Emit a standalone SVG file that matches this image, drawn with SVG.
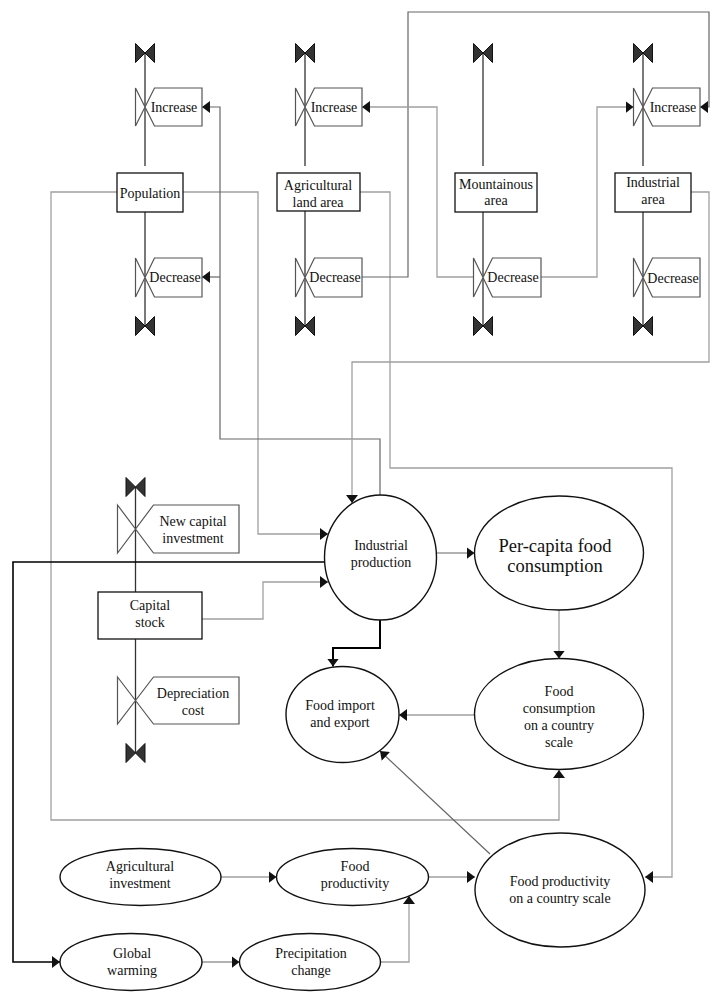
<svg xmlns="http://www.w3.org/2000/svg" xmlns:xlink="http://www.w3.org/1999/xlink" width="718" height="1000" viewBox="0 0 718 1000" font-family="Liberation Serif, DejaVu Serif, serif">
<style>
text{font-family:"Liberation Serif", "DejaVu Serif", serif}
.t{font-size:14px;fill:#111;text-anchor:middle}
.big{font-size:18.5px}
.box{fill:#fff;stroke:#111;stroke-width:1.3}
.ell{fill:#fff;stroke:#111;stroke-width:1.4}
.valve{fill:#fff;stroke:#555;stroke-width:1.2}
.flow{stroke:#333;stroke-width:1.3;fill:none}
.link{stroke:#a0a0a0;stroke-width:1.3;fill:none}
.dlink{stroke:#666;stroke-width:1.2;fill:none}
.bold{stroke:#000;stroke-width:1.6;fill:none}
.bold2{stroke:#000;stroke-width:2;fill:none}
</style>
<defs>
<marker id="ah" viewBox="0 0 8 12" refX="8" refY="6" markerWidth="8" markerHeight="12" orient="auto" markerUnits="userSpaceOnUse"><path d="M0,0 L8,6 L0,12 Z" fill="#111"/></marker>
<g id="bowtie"><path d="M-9.5,-9.5 L0,0 L-9.5,9.5 Z M9.5,-9.5 L0,0 L9.5,9.5 Z" fill="#333" stroke="#111" stroke-width="1"/></g>
</defs>

<g id="flows">
<path class="flow" d="M145,53 V166 M145,212 V326"/>
<path class="flow" d="M305,53 V166 M305,211 V326"/>
<path class="flow" d="M483,53 V166 M483,212 V326"/>
<path class="flow" d="M643,53 V166 M643,212 V326"/>
<path class="flow" d="M135.5,487 V592 M135.5,639 V753"/>
</g>

<g id="connectors">
<path class="link" d="M183,192 H258 V534 H328" marker-end="url(#ah)"/>
<path class="dlink" d="M380,495 V439 H220 V107 H202" marker-end="url(#ah)"/>
<path class="dlink" d="M220,277 H202" marker-end="url(#ah)"/>
<path class="link" d="M117,192 H51 V820 H559 V770" marker-end="url(#ah)"/>
<path class="link" d="M360,192 H390 V468 H672 V877 H645" marker-end="url(#ah)"/>
<path class="dlink" d="M362,277 H408 V12 H709 V107 H700" marker-end="url(#ah)"/>
<path class="link" d="M474,277 H437 V107 H362" marker-end="url(#ah)"/>
<path class="link" d="M541,277 H597 V107 H633.5" marker-end="url(#ah)"/>
<path class="link" d="M691,192 H709 V362 H352 V503" marker-end="url(#ah)"/>
<path class="link" d="M202,619 H263 V582 H328" marker-end="url(#ah)"/>
<path class="bold" d="M324.5,562 H13 V962 H60" marker-end="url(#ah)"/>
<path class="dlink" d="M436.5,553 H474.5" marker-end="url(#ah)"/>
<path class="bold2" d="M380,620 V648 H333 V666.5" marker-end="url(#ah)"/>
<path class="link" d="M559,610 V658.5" marker-end="url(#ah)"/>
<path class="link" d="M474.5,715 H399" marker-end="url(#ah)"/>
<path class="dlink" d="M490,854 L380,751" marker-end="url(#ah)"/>
<path class="link" d="M428.5,877 H475" marker-end="url(#ah)"/>
<path class="link" d="M221,877 H276.5" marker-end="url(#ah)"/>
<path class="dlink" d="M202,962 H239.5" marker-end="url(#ah)"/>
<path class="link" d="M380.5,962 H409 V896" marker-end="url(#ah)"/>
</g>

<g id="sources">
<use xlink:href="#bowtie" x="145" y="53"/>
<use xlink:href="#bowtie" x="145" y="326"/>
<use xlink:href="#bowtie" x="305" y="53"/>
<use xlink:href="#bowtie" x="305" y="326"/>
<use xlink:href="#bowtie" x="483" y="53"/>
<use xlink:href="#bowtie" x="483" y="326"/>
<use xlink:href="#bowtie" x="643" y="53"/>
<use xlink:href="#bowtie" x="643" y="326"/>
<use xlink:href="#bowtie" x="135.5" y="487"/>
<use xlink:href="#bowtie" x="135.5" y="753"/>
</g>

<g id="population">
<rect class="box" x="117" y="173" width="66" height="39"/>
<text class="t" x="150" y="198">Population</text>
</g>
<g id="pop-increase">
<path class="valve" d="M135.5,88 L154.5,126 L202,126 L202,88 L154.5,88 L135.5,126 Z"/>
<text class="t" x="174" y="112">Increase</text>
</g>
<g id="pop-decrease">
<path class="valve" d="M135.5,258 L154.5,297 L202,297 L202,258 L154.5,258 L135.5,297 Z"/>
<text class="t" x="175" y="282">Decrease</text>
</g>

<g id="agri-land">
<rect class="box" x="277" y="173" width="83" height="38"/>
<text class="t" x="318" y="190">Agricultural</text>
<text class="t" x="318" y="207">land area</text>
</g>
<g id="agri-increase">
<path class="valve" d="M295.5,88 L314.5,126 L362,126 L362,88 L314.5,88 L295.5,126 Z"/>
<text class="t" x="334" y="112">Increase</text>
</g>
<g id="agri-decrease">
<path class="valve" d="M295.5,258 L314.5,297 L362,297 L362,258 L314.5,258 L295.5,297 Z"/>
<text class="t" x="335" y="282">Decrease</text>
</g>

<g id="mountainous">
<rect class="box" x="455" y="173" width="82" height="39"/>
<text class="t" x="496" y="189">Mountainous</text>
<text class="t" x="496" y="205">area</text>
</g>
<g id="mount-decrease">
<path class="valve" d="M473.5,258 L492.5,297 L541,297 L541,258 L492.5,258 L473.5,297 Z"/>
<text class="t" x="513" y="282">Decrease</text>
</g>

<g id="industrial-area">
<rect class="box" x="615" y="173" width="76" height="39"/>
<text class="t" x="653" y="187">Industrial</text>
<text class="t" x="653" y="204">area</text>
</g>
<g id="ind-increase">
<path class="valve" d="M633.5,88 L652.5,126 L700,126 L700,88 L652.5,88 L633.5,126 Z"/>
<text class="t" x="673" y="112">Increase</text>
</g>
<g id="ind-decrease">
<path class="valve" d="M633.5,258 L652.5,297 L700,297 L700,258 L652.5,258 L633.5,297 Z"/>
<text class="t" x="673" y="283">Decrease</text>
</g>

<g id="capital-stock">
<rect class="box" x="98" y="592" width="104" height="47"/>
<text class="t" x="150" y="610">Capital</text>
<text class="t" x="150" y="627">stock</text>
</g>
<g id="new-capital">
<path class="valve" d="M117.5,505 L153.5,553 L239,553 L239,505 L153.5,505 L117.5,553 Z"/>
<text class="t" x="193" y="526">New capital</text>
<text class="t" x="193" y="543">investment</text>
</g>
<g id="depreciation">
<path class="valve" d="M117.5,677 L153.5,724 L239,724 L239,677 L153.5,677 L117.5,724 Z"/>
<text class="t" x="193" y="698">Depreciation</text>
<text class="t" x="193" y="715">cost</text>
</g>

<g id="industrial-production">
<ellipse class="ell" cx="380.5" cy="557.5" rx="56" ry="62.5"/>
<text class="t" x="381" y="550">Industrial</text>
<text class="t" x="381" y="567">production</text>
</g>
<g id="per-capita">
<ellipse class="ell" cx="559" cy="553" rx="84.5" ry="57"/>
<text class="t big" x="555" y="552">Per-capita food</text>
<text class="t big" x="555" y="572">consumption</text>
</g>
<g id="food-import">
<ellipse class="ell" cx="342.5" cy="714.5" rx="56.5" ry="48"/>
<text class="t" x="340" y="710">Food import</text>
<text class="t" x="340" y="727">and export</text>
</g>
<g id="food-consumption">
<ellipse class="ell" cx="559" cy="714" rx="84.5" ry="55.5"/>
<text class="t" x="559" y="696">Food</text>
<text class="t" x="559" y="713">consumption</text>
<text class="t" x="559" y="730">on a country</text>
<text class="t" x="559" y="747">scale</text>
</g>
<g id="food-prod-country">
<ellipse class="ell" cx="560" cy="890" rx="85" ry="57"/>
<text class="t" x="560" y="886">Food productivity</text>
<text class="t" x="560" y="903">on a country scale</text>
</g>
<g id="food-productivity">
<ellipse class="ell" cx="352.5" cy="877" rx="76" ry="28.5"/>
<text class="t" x="355" y="871">Food</text>
<text class="t" x="355" y="888">productivity</text>
</g>
<g id="agri-investment">
<ellipse class="ell" cx="140.5" cy="877" rx="80.5" ry="28.5"/>
<text class="t" x="140" y="871">Agricultural</text>
<text class="t" x="140" y="888">investment</text>
</g>
<g id="global-warming">
<ellipse class="ell" cx="131" cy="962" rx="71" ry="28.5"/>
<text class="t" x="132" y="958">Global</text>
<text class="t" x="132" y="975">warming</text>
</g>
<g id="precipitation">
<ellipse class="ell" cx="310" cy="962" rx="70.5" ry="28.5"/>
<text class="t" x="311" y="958">Precipitation</text>
<text class="t" x="311" y="975">change</text>
</g>
</svg>
